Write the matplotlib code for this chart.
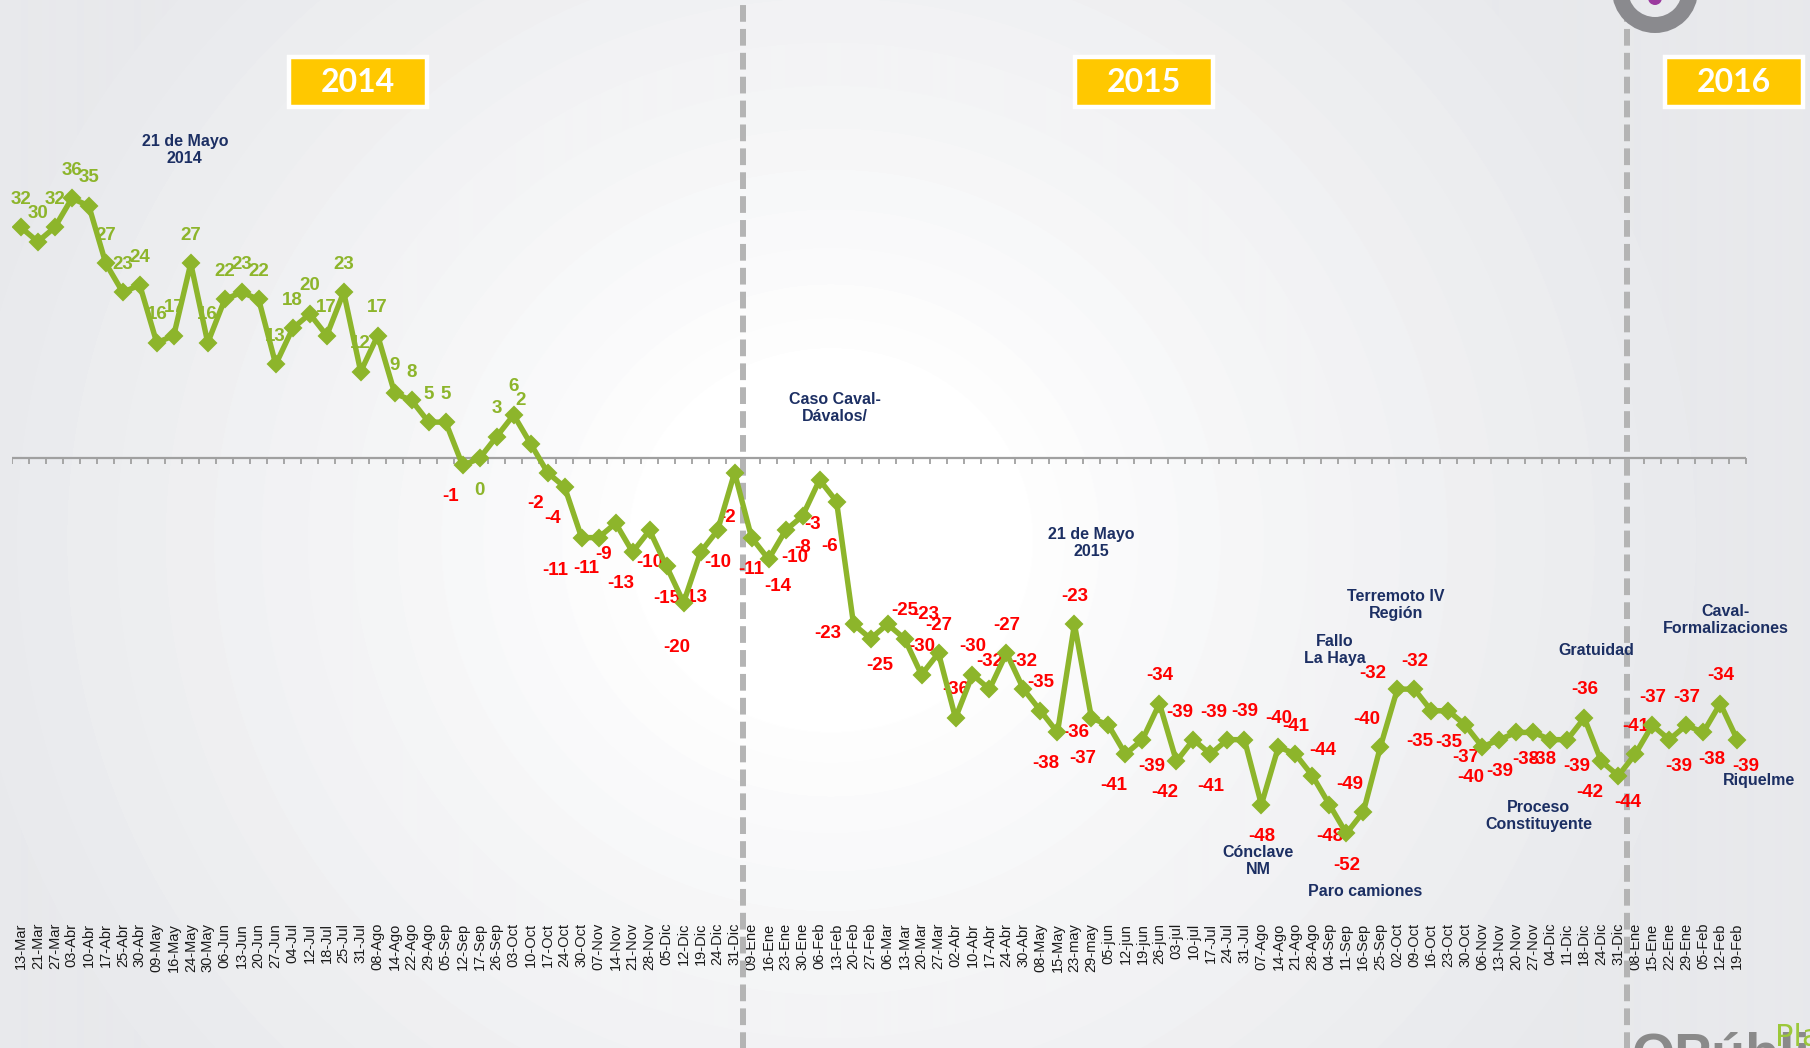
import numpy as np
import matplotlib
matplotlib.use('Agg')
import matplotlib.pyplot as plt
from matplotlib.patches import Rectangle, Circle
from matplotlib.markers import TICKDOWN

plt.rcParams['font.family'] = ['Liberation Sans', 'DejaVu Sans']

# weekly dates, split by year
fechas_2014 = ['13-Mar', '21-Mar', '27-Mar', '03-Abr', '10-Abr', '17-Abr', '25-Abr', '30-Abr',
               '09-May', '16-May', '24-May', '30-May', '06-Jun', '13-Jun', '20-Jun', '27-Jun',
               '04-Jul', '12-Jul', '18-Jul', '25-Jul', '31-Jul', '08-Ago', '14-Ago', '22-Ago',
               '29-Ago', '05-Sep', '12-Sep', '17-Sep', '26-Sep', '03-Oct', '10-Oct', '17-Oct',
               '24-Oct', '30-Oct', '07-Nov', '14-Nov', '21-Nov', '28-Nov', '05-Dic', '12-Dic',
               '19-Dic', '24-Dic', '31-Dic']
fechas_2015 = ['09-Ene', '16-Ene', '23-Ene', '30-Ene', '06-Feb', '13-Feb', '20-Feb', '27-Feb',
               '06-Mar', '13-Mar', '20-Mar', '27-Mar', '02-Abr', '10-Abr', '17-Abr', '24-Abr',
               '30-Abr', '08-May', '15-May', '23-may', '29-may', '05-jun', '12-jun', '19-jun',
               '26-jun', '03-jul', '10-jul', '17-Jul', '24-Jul', '31-Jul', '07-Ago', '14-Ago',
               '21-Ago', '28-Ago', '04-Sep', '11-Sep', '16-Sep', '25-Sep', '02-Oct', '09-Oct',
               '16-Oct', '23-Oct', '30-Oct', '06-Nov', '13-Nov', '20-Nov', '27-Nov', '04-Dic',
               '11-Dic', '18-Dic', '24-Dic', '31-Dic']
fechas_2016 = ['08-Ene', '15-Ene', '22-Ene', '29-Ene', '05-Feb', '12-Feb', '19-Feb']

valores_2014 = [32, 30, 32, 36, 35, 27, 23, 24, 16, 17, 27, 16, 22, 23, 22, 13, 18, 20, 17, 23,
                12, 17, 9, 8, 5, 5, -1, 0, 3, 6, 2, -2, -4, -11, -11, -9, -13, -10, -15, -20,
                -13, -10, -2]
valores_2015 = [-11, -14, -10, -8, -3, -6, -23, -25, -23, -25, -30, -27, -36, -30, -32, -27,
                -32, -35, -38, -23, -36, -37, -41, -39, -34, -42, -39, -41, -39, -39, -48, -40,
                -41, -44, -48, -52, -49, -40, -32, -32, -35, -35, -37, -40, -39, -38, -38, -39,
                -39, -36, -42, -44]
valores_2016 = [-41, -37, -39, -37, -38, -34, -39]

anios = ['2014', '2015', '2016']

eventos = ['21 de Mayo\n2014', 'Caso Caval-\nDávalos/', '21 de Mayo\n2015', 'Terremoto IV\nRegión',
           'Fallo\nLa Haya', 'Gratuidad', 'Caval-\nFormalizaciones', 'Cónclave\nNM',
           'Paro camiones', 'Proceso\nConstituyente', 'Riquelme']

fechas = fechas_2014 + fechas_2015 + fechas_2016
valores = valores_2014 + valores_2015 + valores_2016
x = np.arange(len(fechas))

# where each value label sits relative to its point
pos_etiqueta = (['a'] * 26 +
                ['bl', 'b', 'a', 'a', 'aa', 'bl', 'bl', 'blf', 'bl', 'bl', 'bl', 'b', 'b', 'bb',
                 'bb', 'b', 'bb'] +
                ['b', 'br', 'br', 'b', 'bb', 'bb', 'l', 'br', 'rr', 'a', 'a', 'a', 'a', 'a', 'a',
                 'a', 'a', 'a', 'bl', 'a', 'lb', 'blf', 'bl', 'br', 'a', 'bl', 'al', 'b', 'al',
                 'a', 'b', 'a', 'a', 'ar', 'b', 'b', 'al', 'al', 'll', 'a', 'bl', 'b', 'b', 'bl',
                 'b', 'br', 'br', '', 'br', 'a', 'bl', 'br'] +
                ['a', 'a', 'br', 'a', 'br', 'a', 'br'])
# offsets in pixels (dx, dy downwards)
OFF = {'a': (0, -28), 'b': (0, 32), 'bl': (-12, 31), 'br': (9, 27), 'al': (-14, -27),
       'ar': (10, -25), 'l': (-26, 9), 'lb': (-16, 15), 'blf': (-26, 33), 'bb': (-7, 45),
       'll': (-25, -16), 'rr': (38, -10), 'aa': (-10, -43)}
# event text placement (x index, y value)
pos_eventos = [(9.65, 42.7), (47.9, 7.0), (63.0, -11.8), (80.9, -20.3), (77.3, -26.6),
               (92.7, -26.6), (100.3, -22.4), (72.8, -55.8), (79.1, -60.0), (89.3, -49.6),
               (102.3, -44.6)]

VERDE = '#8DB52B'
ROJO = '#FF0000'
AZUL = '#1C2F63'

W, H = 1810, 1048
fig = plt.figure(figsize=(W / 100, H / 100), dpi=100)

# radial background
bg = fig.add_axes([0, 0, 1, 1], zorder=-5)
yy, xx = np.mgrid[0:H, 0:W]
r = np.hypot(xx - 830, (yy - 540) * 1.05)
t = np.clip((r - 190) / 700, 0, 1)
t = np.round(t ** 0.85 * 16) / 16
gris = np.array([232, 233, 236]) / 255
img = 1 - t[..., None] * (1 - gris)
bg.imshow(img, extent=(0, W, H, 0), aspect='auto', interpolation='bilinear')
bg.set_xlim(0, W)
bg.set_ylim(H, 0)
bg.axis('off')

ax = fig.add_axes([0.0068, 0.1221, 0.9577, 0.8779], facecolor='none')
ax.set_xlim(-0.5, len(fechas) - 0.5)
ax.set_ylim(-64.0, 63.5)
for s in ax.spines.values():
    s.set_visible(False)
ax.set_yticks([])
ax.set_xticks(x)
ax.set_xticklabels(fechas, rotation=90, fontsize=10.5, color='#1A1A1A')
ax.tick_params(axis='x', length=0, pad=2)

# zero line with small ticks at category boundaries
ax.axhline(0, color='#A0A0A0', lw=1.6, zorder=1)
limites = np.arange(len(fechas) + 1) - 0.5
ax.plot(limites, np.zeros(len(limites)), ls='', marker=TICKDOWN, ms=4, mew=1.3,
        color='#A0A0A0', zorder=1)

# year separators
cortes = [len(fechas_2014) - 0.5, len(fechas_2014) + len(fechas_2015) - 0.5]
for c in cortes:
    ax.axvline(c, ymin=-0.14, ymax=1.0, clip_on=False, color='#B4B4B4', lw=4.3,
               ls=(0, (2.8, 1.2)), zorder=2)

ax.plot(x, valores, color=VERDE, lw=3.9, marker='D', ms=8, mew=1.5, mec=VERDE,
        solid_joinstyle='round', zorder=4)

for i, v in enumerate(valores):
    code = pos_etiqueta[i]
    if not code:
        continue
    dx, dy = OFF[code]
    ax.annotate(str(v), (i, v), xytext=(dx * 0.72, -dy * 0.72), textcoords='offset points',
                ha='center', va='center', fontsize=13.5, fontweight='bold',
                color=VERDE if v >= 0 else ROJO, zorder=3)

for txt, (ex, ey) in zip(eventos, pos_eventos):
    ax.text(ex, ey, txt, ha='center', va='center', fontsize=11.5, fontweight='bold',
            color=AZUL, linespacing=1.15, zorder=3)

# year boxes
centros = [358, 1144, 1734]
for a, cx in zip(anios, centros):
    fig.add_artist(Rectangle(((cx - 69) / W, 1 - 107 / H), 138 / W, 50 / H,
                             transform=fig.transFigure, fc='#FFC800', ec='white', lw=3.2,
                             zorder=5))
    fig.text(cx / W, 1 - 83 / H, a, ha='center', va='center', fontsize=23,
             fontweight='bold', color='white', family=['Lato', 'DejaVu Sans'], zorder=6)

# partial logos at the edges
fig.add_artist(Circle((1655 / 100, (H + 10) / 100), 0.35, transform=fig.dpi_scale_trans,
                      fill=False, ec='#8A8A8E', lw=11.5, zorder=5))
fig.add_artist(Circle((1655 / 100, (H + 2) / 100), 0.07, transform=fig.dpi_scale_trans,
                      fc='#9B3A9F', ec='none', zorder=5))
fig.text(1632 / W, 1 - 1031 / H, 'OPúbli', ha='left', va='top', fontsize=40,
         fontweight='bold', color='#8A8A8A', zorder=5)
fig.text(1775 / W, 1 - 1023 / H, 'Plaz', ha='left', va='top', fontsize=22,
         color='#9CC83A', family=['Liberation Sans Narrow', 'DejaVu Sans'], zorder=5)

fig.savefig('out.png', dpi=100)
